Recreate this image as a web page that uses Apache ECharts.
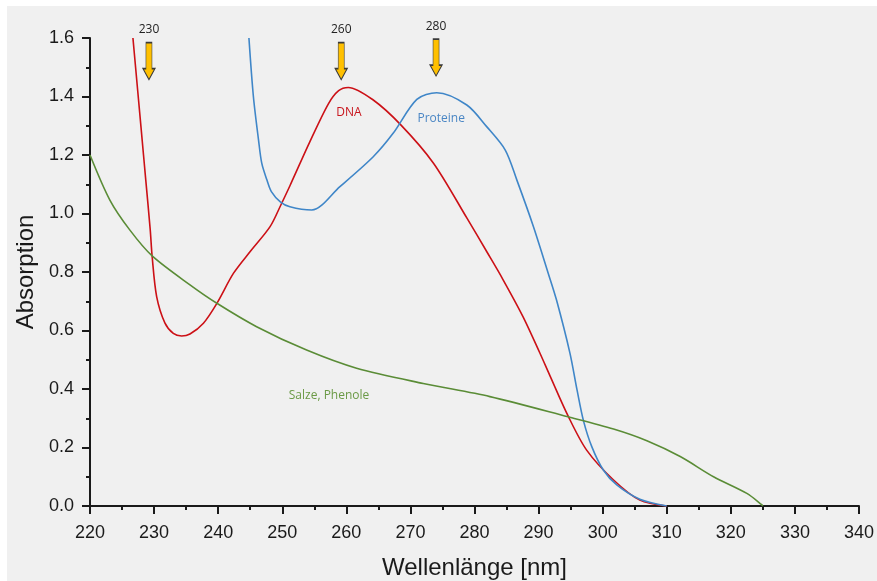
<!DOCTYPE html>
<html>
<head>
<meta charset="utf-8">
<script src="https://cdn.jsdelivr.net/npm/echarts@6/dist/echarts.min.js"></script>
<style>
html,body{margin:0;padding:0;background:#ffffff;}
#chart{width:877px;height:581px;}
</style>
</head>
<body>
<div id="chart"></div>
<script>
// Wavelengths (nm) and absorbance values
var dnaNm  = [226.7, 228.0, 228.7, 229.4, 229.7, 230.4, 231.7, 233.0, 234.3, 235.6, 237.7, 239.8, 242.4, 245.0, 248.1, 249.8, 251.2, 254.3, 257.2, 258.8, 260.3, 264.2, 268.5, 273.6, 278.8, 281.9, 284.4, 287.6, 290.2, 291.8, 294.6, 297.5, 301.7, 305.8, 310.0];
var dnaAbs = [1.600, 1.285, 1.115, 0.944, 0.852, 0.716, 0.625, 0.590, 0.581, 0.588, 0.625, 0.693, 0.796, 0.870, 0.955, 1.030, 1.095, 1.245, 1.375, 1.420, 1.431, 1.388, 1.303, 1.172, 0.985, 0.870, 0.776, 0.646, 0.523, 0.444, 0.308, 0.191, 0.089, 0.020, 0.000];

var protNm  = [244.8, 245.5, 246.3, 246.8, 247.6, 248.3, 249.7, 251.2, 254.6, 259.0, 264.2, 267.3, 271.0, 274.1, 278.8, 281.9, 284.8, 286.6, 289.2, 291.5, 292.8, 294.9, 296.0, 297.0, 298.3, 300.1, 302.2, 305.8, 310.0];
var protAbs = [1.600, 1.399, 1.251, 1.172, 1.115, 1.075, 1.040, 1.023, 1.012, 1.092, 1.194, 1.274, 1.390, 1.413, 1.371, 1.297, 1.217, 1.115, 0.955, 0.796, 0.704, 0.522, 0.397, 0.292, 0.203, 0.123, 0.072, 0.023, 0.000];

var saltNm  = [220.0, 223.1, 226.2, 229.7, 235.6, 239.8, 246.0, 253.8, 261.6, 272.0, 282.4, 294.6, 301.7, 306.9, 312.1, 317.3, 322.5, 324.8, 325.0];
var saltAbs = [1.200, 1.046, 0.944, 0.855, 0.756, 0.693, 0.613, 0.533, 0.471, 0.419, 0.374, 0.305, 0.263, 0.223, 0.169, 0.100, 0.043, 0.005, 0.000];

// Arrows as drawn in the reference (slightly left of their labelled wavelengths)
var arrowNm = [229.2, 259.2, 274.0];
var arrowLabels = ['230', '260', '280'];
var arrowLevel = [1.521, 1.521, 1.533];

var seriesNames = ['DNA', 'Proteine', 'Salze, Phenole'];
var nameNm  = [260.4, 274.8, 257.3];
var nameAbs = [1.344, 1.323, 0.379];

var xTicks = {min: 220, max: 340, interval: 10};
var yTicks = {min: 0, max: 1.6, interval: 0.2};

function pairs(xs, ys){ return xs.map(function(x,i){ return [x, ys[i]]; }); }

var colors = ['#cc1016', '#3f86c8', '#5a8c36'];
var labelColors = ['#c8161e', '#4a86c4', '#6b9a46'];
var curves = [pairs(dnaNm, dnaAbs), pairs(protNm, protAbs), pairs(saltNm, saltAbs)];

var series = curves.map(function(d, i){
  return {
    type: 'line', name: seriesNames[i], data: d, showSymbol: false, symbol: 'none',
    smooth: 0.3, clip: false,
    lineStyle: {color: colors[i], width: 1.6},
    markPoint: {
      symbol: 'circle', symbolSize: 0, silent: true,
      data: [{coord: [nameNm[i], nameAbs[i]], value: seriesNames[i]}],
      label: {show: true, position: 'inside', formatter: seriesNames[i], color: labelColors[i],
              fontFamily: 'Open Sans', fontSize: 12}
    },
    z: 3
  };
});

series.push({
  type: 'scatter', name: 'arrows', silent: true,
  data: arrowNm.map(function(x, i){ return {value: [x, arrowLevel[i]], label: {formatter: arrowLabels[i]}}; }),
  symbol: 'path://M3,0 L9,0 L9,26 L12,26 L6,37 L0,26 L3,26 Z',
  symbolSize: [12, 37],
  itemStyle: {color: '#ffc000', borderColor: '#3a3a3a', borderWidth: 1, opacity: 1},
  label: {show: true, position: 'top', distance: 6, color: '#222', fontFamily: 'Open Sans', fontSize: 12},
  z: 4
});

var axisFont = {fontFamily: 'Liberation Sans', fontSize: 18, color: '#1a1a1a'};

var chart = echarts.init(document.getElementById('chart'), null, {renderer: 'canvas'});
chart.setOption({
  backgroundColor: '#ffffff',
  animation: false,
  graphic: [{type: 'rect', shape: {x: 7, y: 6, width: 870, height: 575}, style: {fill: '#f0f0f0'}, z: -10, silent: true}],
  grid: {left: 90, right: 18, top: 38, bottom: 75, containLabel: false, outerBoundsMode: 'none'},
  xAxis: {
    type: 'value', min: xTicks.min, max: xTicks.max, interval: xTicks.interval,
    name: 'Wellenlänge [nm]', nameLocation: 'middle', nameGap: 50,
    nameTextStyle: {fontFamily: 'Liberation Sans', fontSize: 24, color: '#1a1a1a'},
    axisLine: {show: true, onZero: false, lineStyle: {color: '#1a1a1a', width: 2}},
    axisTick: {show: true, inside: false, length: 8, lineStyle: {color: '#1a1a1a', width: 2}},
    minorTick: {show: true, splitNumber: 2, length: 4, lineStyle: {color: '#1a1a1a', width: 2}},
    splitLine: {show: false},
    axisLabel: Object.assign({margin: 18}, axisFont)
  },
  yAxis: {
    type: 'value', min: yTicks.min, max: yTicks.max, interval: yTicks.interval,
    name: 'Absorption', nameLocation: 'middle', nameGap: 43, nameRotate: 90,
    nameTextStyle: {fontFamily: 'Liberation Sans', fontSize: 24, color: '#1a1a1a'},
    axisLine: {show: true, onZero: false, lineStyle: {color: '#1a1a1a', width: 2}},
    axisTick: {show: true, inside: false, length: 8, lineStyle: {color: '#1a1a1a', width: 2}},
    minorTick: {show: true, splitNumber: 2, length: 4, lineStyle: {color: '#1a1a1a', width: 2}},
    splitLine: {show: false},
    axisLabel: Object.assign({margin: 16, formatter: function(v){ return v.toFixed(1); }}, axisFont)
  },
  series: series
});
</script>
</body>
</html>
